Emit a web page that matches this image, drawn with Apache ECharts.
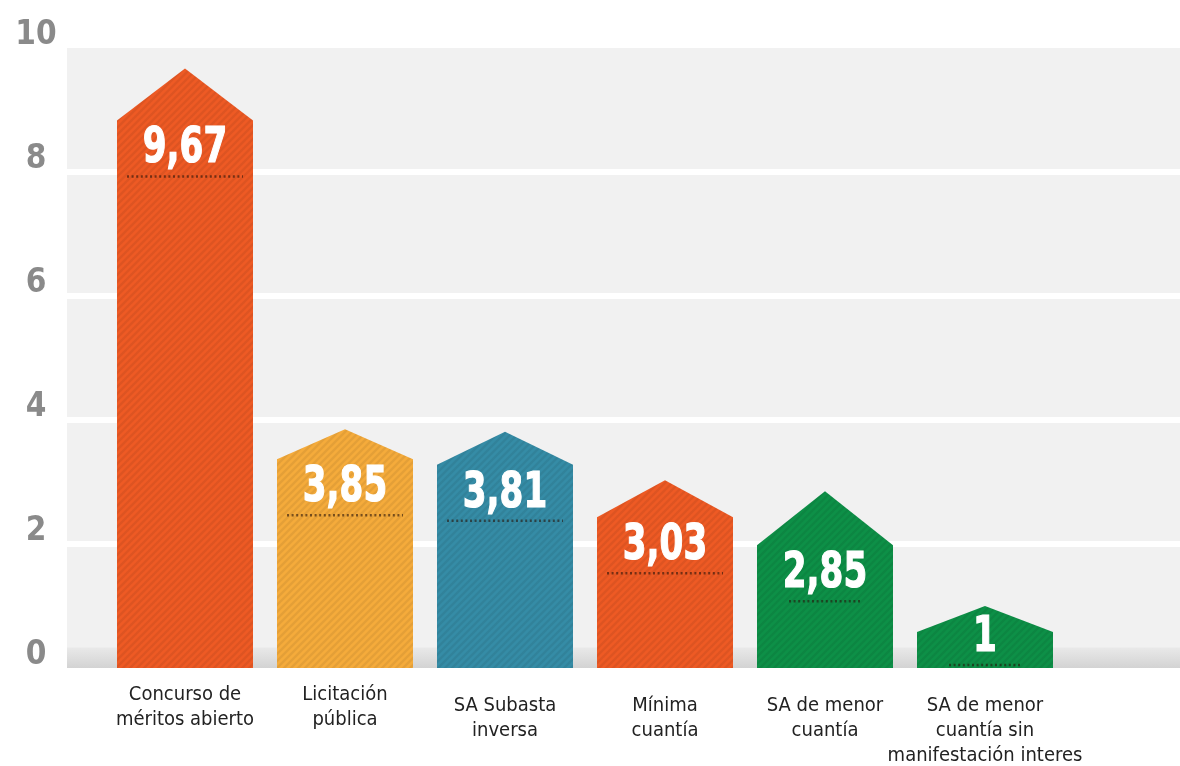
<!DOCTYPE html>
<html>
<head>
<meta charset="utf-8">
<script src="https://cdn.jsdelivr.net/npm/echarts@6/dist/echarts.min.js"></script>
<style>
  html, body { margin: 0; padding: 0; background: #fff; }
  #main { width: 1180px; height: 766px; }
</style>
</head>
<body>
<div id="main"></div>
<script>
const categories = [
  'Concurso de\nméritos abierto',
  'Licitación\npública',
  'SA Subasta\ninversa',
  'Mínima\ncuantía',
  'SA de menor\ncuantía',
  'SA de menor\ncuantía sin\nmanifestación interes'
]
const values = [9.67, 3.85, 3.81, 3.03, 2.85, 1]

// look of each house
const barColors = ['#ee5a24', '#f5ab3b', '#358ca6', '#ee5a24', '#0d9047', '#0d9047']
const roofPx = [52, 30, 33, 37, 54, 26]

const narrow = '"DejaVu Sans Condensed", "DejaVu Sans", sans-serif'

// diagonal stripes drawn over the bars
const stripes = document.createElement('canvas')
stripes.width = 7
stripes.height = 7
const sctx = stripes.getContext('2d')
sctx.strokeStyle = 'rgba(0,0,0,0.07)'
sctx.lineWidth = 2.5
sctx.beginPath()
sctx.moveTo(-1, 8); sctx.lineTo(8, -1)
sctx.moveTo(-1, 1); sctx.lineTo(1, -1)
sctx.moveTo(6, 8); sctx.lineTo(8, 6)
sctx.stroke()

const myChart = echarts.init(document.getElementById('main'))

const renderHouse = (params, api) => {
  const i = api.value(0)
  const v = api.value(1)
  const base = api.coord([i, 0])
  const top = api.coord([i, v])
  const w = api.size([1, 0])[0] * 0.85
  const x0 = base[0] - w / 2
  const x1 = base[0] + w / 2
  const shoulder = top[1] + roofPx[i]
  const pts = [[x0, base[1]], [x0, shoulder], [base[0], top[1]], [x1, shoulder], [x1, base[1]]]
  const textY = Math.min(shoulder + 44, base[1] - 15)
  const dotW = v < 3 ? 72 : w - 20
  return {
    type: 'group',
    children: [
      { type: 'polygon', shape: { points: pts }, style: { fill: barColors[i] } },
      { type: 'polygon', shape: { points: pts }, style: { fill: { image: stripes, repeat: 'repeat' } } },
      {
        type: 'line',
        shape: { x1: base[0] - dotW / 2, y1: textY + 12, x2: base[0] + dotW / 2, y2: textY + 12 },
        style: { stroke: 'rgba(40,20,10,0.6)', lineWidth: 2.5, lineDash: [2, 2.6] }
      },
      {
        type: 'text',
        x: base[0],
        y: textY + 10,
        scaleX: 0.76,
        style: {
          text: String(v).replace('.', ','),
          fill: '#fff',
          stroke: '#fff',
          lineWidth: 1.2,
          font: 'bold 50px ' + narrow,
          align: 'center',
          verticalAlign: 'bottom'
        }
      }
    ]
  }
}

const option = {
  backgroundColor: '#fff',
  animation: false,
  grid: [
    { left: 67, right: 0, top: 48, bottom: 98, outerBoundsMode: 'none', show: true, backgroundColor: '#f1f1f1', borderWidth: 0 },
    { left: 105, right: 115, top: 48, bottom: 98, outerBoundsMode: 'none' }
  ],
  xAxis: [
    { type: 'value', gridIndex: 0, min: 0, max: 1, show: false },
    {
      type: 'category',
      gridIndex: 1,
      data: categories.map((c, i) => i < 2 ? c : { value: c, textStyle: { padding: [11, 0, 0, 0] } }),
      axisLine: { show: false },
      axisTick: { show: false },
      axisLabel: {
        interval: 0,
        color: '#222',
        fontSize: 20,
        lineHeight: 25,
        fontFamily: narrow,
        margin: 14
      }
    }
  ],
  yAxis: [
    {
      type: 'value',
      gridIndex: 0,
      min: 0,
      max: 10,
      interval: 2,
      axisLine: { show: false },
      axisTick: { show: false },
      splitLine: { show: true, showMinLine: false, showMaxLine: false, lineStyle: { color: '#fff', width: 6 } },
      axisLabel: {
        color: '#8a8a8a',
        fontSize: 33,
        fontWeight: 'bold',
        fontFamily: narrow,
        align: 'center',
        verticalAlign: 'bottom',
        lineHeight: 26,
        margin: 31
      }
    },
    { type: 'value', gridIndex: 1, min: 0, max: 10, show: false }
  ],
  series: [
    {
      type: 'custom',
      xAxisIndex: 0,
      yAxisIndex: 0,
      silent: true,
      data: [[0]],
      renderItem: (params, api) => {
        const cs = params.coordSys
        const t = api.coord([0, 0.33])
        return {
          type: 'rect',
          shape: { x: cs.x, y: t[1], width: cs.width, height: cs.y + cs.height - t[1] },
          style: {
            fill: new echarts.graphic.LinearGradient(0, 0, 0, 1, [
              { offset: 0, color: '#e9e9e9' },
              { offset: 1, color: '#d3d3d3' }
            ])
          }
        }
      }
    },
    {
      type: 'custom',
      name: 'valor',
      xAxisIndex: 1,
      yAxisIndex: 1,
      encode: { x: 0, y: 1 },
      data: values.map((v, i) => [i, v]),
      renderItem: renderHouse
    }
  ]
}

myChart.setOption(option)
</script>
</body>
</html>
